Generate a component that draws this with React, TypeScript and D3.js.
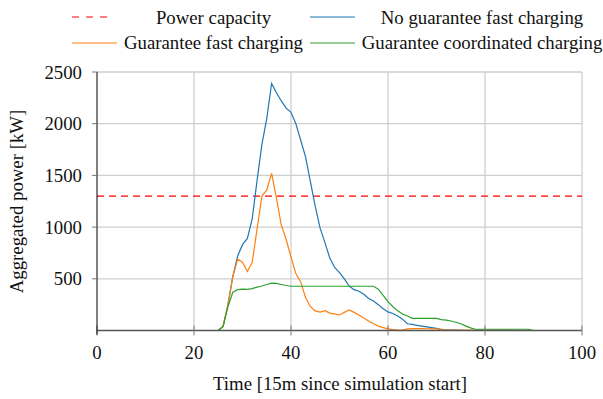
import React from "react";
import * as d3 from "d3";

const capacity = 1300;
const xTicks = [0, 20, 40, 60, 80, 100];
const yTicks = [500, 1000, 1500, 2000, 2500];

const zeros = (n: number) => Array.from({ length: n }, () => 0);

// values at t = 0..100 (15 min steps)
const noGuarantee: number[] = [
  ...zeros(26),
  40, 250, 520, 720, 830, 890, 1080, 1450, 1800, 2050,
  2390, 2300, 2220, 2150, 2110, 2000, 1840, 1680, 1440, 1200,
  990, 850, 700, 610, 560, 500, 430, 395, 380, 350,
  310, 285, 250, 210, 180, 165, 140, 110, 65, 60,
  50, 42, 35, 28, 20, 10, 5, 4, 3, 2,
  ...zeros(25),
];

const guaranteeFast: number[] = [
  ...zeros(26),
  40, 250, 520, 690, 660, 570, 660, 980, 1300, 1360,
  1520, 1280, 1020, 880, 710, 550, 470, 320, 230, 190,
  178, 192, 168, 160, 150, 175, 198, 175, 150, 120,
  92, 65, 42, 28, 15, 8, 3, 5, 15, 18,
  18, 18, 17, 16, 15, 10, 5, 5, 5, 5,
  5, 5, 5, 5, 5, 5, 5, 5, 5, 5,
  ...zeros(15),
];

const guaranteeCoordinated: number[] = [
  ...zeros(26),
  40, 230, 370, 395, 400, 398, 405, 420, 430, 445,
  458, 455, 445, 435, 428, 428, 428, 428, 428, 428,
  428, 428, 428, 428, 428, 428, 428, 428, 428, 428,
  428, 428, 400, 340, 280, 230, 190, 160, 140, 118,
  118, 118, 118, 118, 118, 105, 100, 92, 80, 65,
  45, 25, 12, 12, 12, 12, 12, 12, 12, 12,
  12, 12, 12, 12, ...zeros(11),
];

const W = 603;
const H = 399;
const left = 97;
const right = 582;
const top = 72;
const bottom = 330.5;

const series = [
  { name: "No guarantee fast charging", values: noGuarantee, color: "#1f77b4" },
  { name: "Guarantee fast charging", values: guaranteeFast, color: "#ff7f0e" },
  { name: "Guarantee coordinated charging", values: guaranteeCoordinated, color: "#2ca02c" },
];

export default function App() {
  const x = d3.scaleLinear().domain([0, 100]).range([left, right]);
  const y = d3.scaleLinear().domain([0, 2500]).range([bottom, top]);
  const line = d3
    .line<number>()
    .x((_, i) => x(i))
    .y((d) => y(d));
  const font = "'Liberation Serif', 'Times New Roman', serif";
  const fs = 18.8;

  return (
    <svg
      width={W}
      height={H}
      style={{ position: "absolute", left: 0, top: 0, background: "#fff" }}
      fontFamily={font}
    >
      {/* grid */}
      {yTicks.map((t) => (
        <line key={"gy" + t} x1={left} x2={right} y1={y(t)} y2={y(t)} stroke="#cfcfcf" strokeWidth={1.3} />
      ))}
      {xTicks.slice(1).map((t) => (
        <line key={"gx" + t} x1={x(t)} x2={x(t)} y1={top} y2={bottom} stroke="#cfcfcf" strokeWidth={1.3} />
      ))}

      {/* capacity */}
      <line
        x1={left}
        x2={right}
        y1={y(capacity)}
        y2={y(capacity)}
        stroke="#ff0000"
        strokeWidth={1.2}
        strokeDasharray="7 5"
      />

      {/* series */}
      {series.map((s) => (
        <path key={s.name} d={line(s.values) || ""} fill="none" stroke={s.color} strokeWidth={1.2} />
      ))}

      {/* axes */}
      <line x1={left} x2={right} y1={bottom} y2={bottom} stroke="#555" strokeWidth={1.3} />
      {xTicks.map((t) => (
        <line key={"tx" + t} x1={x(t)} x2={x(t)} y1={bottom - 5} y2={bottom + 5} stroke="#777" strokeWidth={1} />
      ))}
      <line x1={left} x2={left} y1={top} y2={bottom + 4} stroke="#000" strokeWidth={1} />
      {yTicks.map((t) => (
        <line key={"ty" + t} x1={left - 5} x2={left} y1={y(t)} y2={y(t)} stroke="#777" strokeWidth={1} />
      ))}

      {/* tick labels */}
      {xTicks.map((t) => (
        <text key={"lx" + t} x={x(t)} y={358.5} textAnchor="middle" fontSize={fs} fill="#111">
          {t}
        </text>
      ))}
      {yTicks.map((t) => (
        <text key={"ly" + t} x={82} y={y(t) + 6.5} textAnchor="end" fontSize={fs} fill="#111">
          {t}
        </text>
      ))}

      {/* axis titles */}
      <text x={340} y={390} textAnchor="middle" fontSize={fs} fill="#111">
        Time [15m since simulation start]
      </text>
      <text
        transform={`translate(23, 201.5) rotate(-90)`}
        textAnchor="middle"
        fontSize={fs}
        fill="#111"
      >
        Aggregated power [kW]
      </text>

      {/* legend */}
      <line x1={72} x2={112} y1={17} y2={17} stroke="#ff0000" strokeWidth={1.2} strokeDasharray="7 7" />
      <text x={213.5} y={23.5} textAnchor="middle" fontSize={fs} fill="#111">
        Power capacity
      </text>
      <line x1={310} x2={355} y1={17} y2={17} stroke="#1f77b4" strokeWidth={1.2} />
      <text x={482} y={23.5} textAnchor="middle" fontSize={fs} fill="#111">
        No guarantee fast charging
      </text>
      <line x1={72} x2={117} y1={43} y2={43} stroke="#ff7f0e" strokeWidth={1.2} />
      <text x={213.5} y={48.5} textAnchor="middle" fontSize={fs} fill="#111">
        Guarantee fast charging
      </text>
      <line x1={310} x2={355} y1={43} y2={43} stroke="#2ca02c" strokeWidth={1.2} />
      <text x={482} y={48.5} textAnchor="middle" fontSize={fs} fill="#111">
        Guarantee coordinated charging
      </text>
    </svg>
  );
}
